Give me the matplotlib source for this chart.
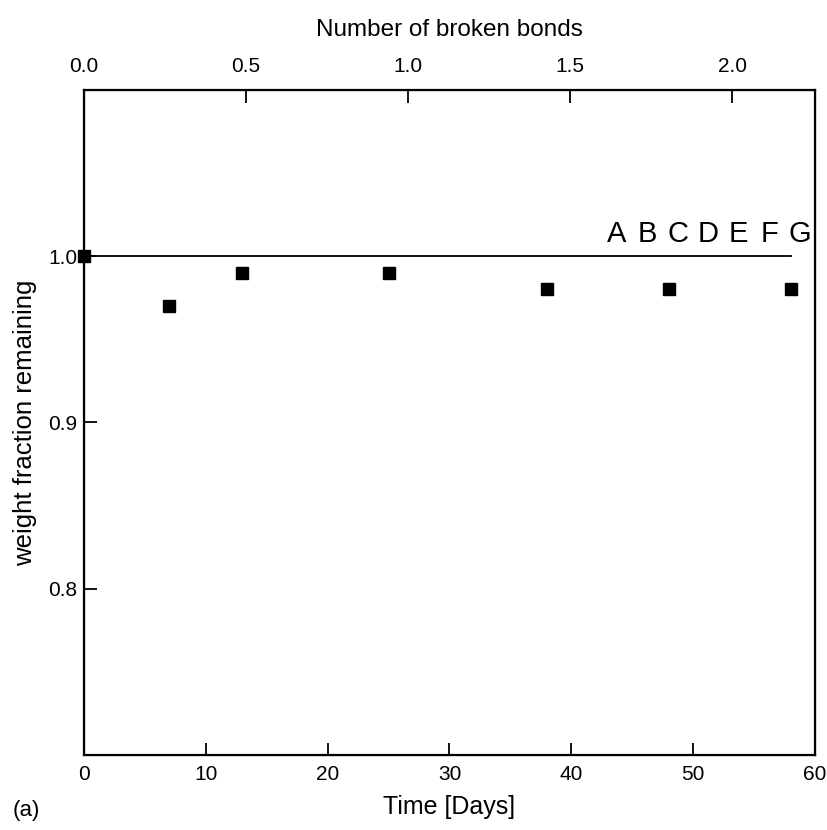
import numpy as np
import matplotlib
matplotlib.use("Agg")
import matplotlib.pyplot as plt

plt.rcParams['font.family'] = ['Liberation Sans', 'DejaVu Sans']

days = [0, 7, 13, 25, 38, 48, 58]
weight_fraction = [1.00, 0.97, 0.99, 0.99, 0.98, 0.98, 0.98]
days_per_bond = 26.6
bond_ticks = [0.0, 0.5, 1.0, 1.5, 2.0]
sample_letters = ['A', 'B', 'C', 'D', 'E', 'F', 'G']

fig = plt.figure(figsize=(8.28, 8.30), dpi=100)
ax = fig.add_axes([0.1014, 0.0904, 0.8829, 0.8012])

ax.plot([0, 58], [1.0, 1.0], color='black', lw=1.3)
ax.plot(days, weight_fraction, 's', color='black', markersize=8.5, clip_on=False)
# sample labels spread along the reference line
for i, letter in enumerate(sample_letters):
    ax.text(43.7 + i * 2.51, 1.0085, letter, fontsize=21, ha='center', va='baseline')

ax.set_xlim(0, 60)
ax.set_ylim(0.70, 1.10)
ax.set_xticks([0, 10, 20, 30, 40, 50, 60])
ax.set_yticks([0.8, 0.9, 1.0])
ax.set_yticklabels(['0.8', '0.9', '1.0'])
ax.tick_params(direction='in', length=9, width=1.3, labelsize=15)
ax.tick_params(axis='x', pad=7)
ax.tick_params(axis='y', pad=5)
ax.set_xlabel('Time [Days]', fontsize=18, labelpad=8)
ax.set_ylabel('weight fraction remaining', fontsize=18.5, labelpad=8)
for s in ax.spines.values():
    s.set_linewidth(1.6)

top = ax.twiny()
top.set_xlim(0, 60 / days_per_bond)
top.set_xticks(bond_ticks)
top.set_xticklabels([f"{b:.1f}" for b in bond_ticks])
top.tick_params(direction='in', length=9, width=1.3, labelsize=15, pad=10)
top.set_xlabel('Number of broken bonds', fontsize=17.5, labelpad=15)

fig.text(0.0157, 0.024, '(a)', fontsize=16, ha='left', va='center')

fig.savefig('out.png', dpi=100)
